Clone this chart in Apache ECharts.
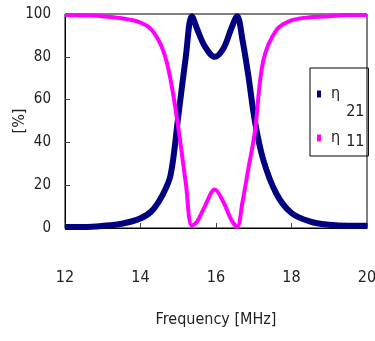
<!DOCTYPE html>
<html><head><meta charset="utf-8">
<script src="https://cdn.jsdelivr.net/npm/echarts@6/dist/echarts.min.js"></script>
<style>html,body{margin:0;padding:0;background:#fff}#c{width:375px;height:341px}</style>
</head><body><div id="c"></div>
<script>
const freq = [12, 12.5, 13, 13.5, 14, 14.3, 14.6, 14.8, 15.0, 15.2, 15.36, 15.5, 15.7, 15.97, 16.2, 16.4, 16.56, 16.7, 16.85, 17.03, 17.25, 17.6, 18.0, 18.5, 19, 19.5, 20];
const eta21 = [0.5, 0.5, 1, 2, 4.5, 8, 16, 25, 52, 80, 99, 93, 85, 80, 84, 93, 99, 88, 72, 50, 32, 16, 7, 3, 1.5, 1, 1];
const eta11 = [99.5, 99.3, 99, 98, 96, 92.5, 83, 69, 47, 21, 1, 3, 10, 18, 12, 4, 0.5, 12, 27, 45, 78, 92.5, 97, 98.5, 99, 99.5, 99.5];
const xTicks = [12, 14, 16, 18, 20];
const yTicks = [0, 20, 40, 60, 80, 100];
const seriesNames = ['η21', 'η11'];

const FONT = '"Liberation Sans Narrow", "DejaVu Sans Condensed", sans-serif';
const chart = echarts.init(document.getElementById('c'), null, {renderer: 'canvas'});
const pairs = (ys) => freq.map((f, i) => [f, ys[i]]);
const tx = {fontFamily: FONT, color: '#222', fontSize: 16, lineHeight: 18};
chart.setOption({
  animation: false,
  grid: {left: 65, right: 8, top: 14, bottom: 113, show: true, borderColor: '#000', borderWidth: 1,
         containLabel: false, outerBoundsMode: 'none'},
  xAxis: {
    type: 'value', min: 12, max: 20, interval: 2,
    name: 'Frequency [MHz]', nameLocation: 'middle', nameGap: 84, nameMoveOverlap: false,
    nameTextStyle: {fontFamily: FONT, fontSize: 16, color: '#222'},
    axisLine: {lineStyle: {color: '#000', width: 1}},
    axisTick: {inside: true, length: 5, lineStyle: {color: '#444'}},
    splitLine: {show: false},
    axisLabel: {margin: 42, fontFamily: FONT, fontSize: 16, color: '#222',
      formatter: v => xTicks.includes(v) ? String(v) : ''}
  },
  yAxis: {
    type: 'value', min: 0, max: 100, interval: 20,
    name: '[%]', nameLocation: 'middle', nameGap: 37, nameRotate: 90, nameMoveOverlap: false,
    nameTextStyle: {fontFamily: FONT, fontSize: 16, color: '#222'},
    axisLine: {show: true, lineStyle: {color: '#000', width: 1}},
    axisTick: {show: true, inside: true, length: 5, lineStyle: {color: '#444'}},
    splitLine: {show: false},
    axisLabel: {margin: 14, fontFamily: FONT, fontSize: 15, color: '#222',
      formatter: v => yTicks.includes(v) ? String(v) : ''}
  },
  legend: {
    orient: 'vertical', left: 310, top: 68, width: 57,
    data: seriesNames,
    icon: 'rect', itemWidth: 4, itemHeight: 7, itemGap: 6,
    borderColor: '#000', borderWidth: 1, borderRadius: 0,
    padding: [0, 4, 6, 7],
    formatter: n => n === seriesNames[0]
      ? '{e1|η}{s1|' + n.slice(1) + '}'
      : '{e2|η}{s2|' + n.slice(1) + '}',
    textStyle: {
      fontFamily: FONT, color: '#222',
      rich: {
        e1: Object.assign({}, tx, {padding: [18, 6, 18, 5]}),
        s1: Object.assign({}, tx, {padding: [36, 0, 0, 0]}),
        e2: Object.assign({}, tx, {padding: [4, 6, 4, 5]}),
        s2: Object.assign({}, tx, {padding: [8, 0, 0, 0]})
      }
    }
  },
  series: [
    {name: seriesNames[0], type: 'line', data: pairs(eta21), smooth: 0.35, showSymbol: false,
     lineStyle: {color: '#000080', width: 6}, itemStyle: {color: '#000080'}},
    {name: seriesNames[1], type: 'line', data: pairs(eta11), smooth: 0.35, showSymbol: false,
     lineStyle: {color: '#ff00ff', width: 4}, itemStyle: {color: '#ff00ff'}}
  ]
});
</script></body></html>
